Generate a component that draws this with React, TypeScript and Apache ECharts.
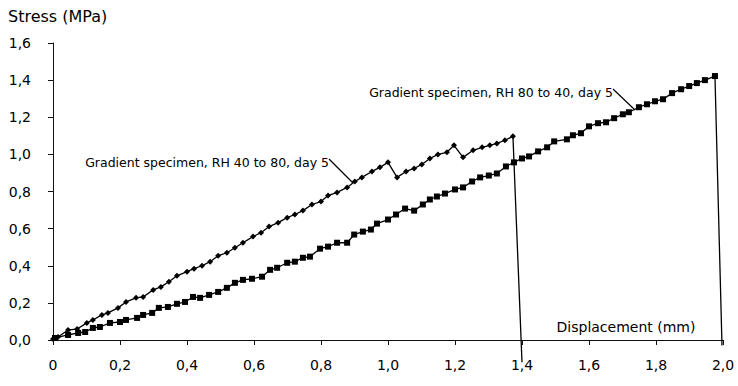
import React, { useEffect, useRef } from "react";
import * as echarts from "echarts";

// Gradient specimen, RH 40 to 80, day 5 (diamond markers)
const rh4080Disp = [
  0, 0.015, 0.045, 0.072, 0.101, 0.119, 0.146, 0.164, 0.194, 0.218,
  0.248, 0.269, 0.299, 0.322, 0.346, 0.37, 0.4, 0.421, 0.445, 0.469,
  0.493, 0.519, 0.543, 0.567, 0.597, 0.621, 0.645, 0.672, 0.699, 0.722,
  0.746, 0.773, 0.8, 0.821, 0.848, 0.878, 0.901, 0.922, 0.952, 0.976,
  1.0, 1.027, 1.054, 1.078, 1.101, 1.125, 1.149, 1.176, 1.197, 1.224,
  1.254, 1.281, 1.304, 1.325, 1.349, 1.373, 1.4,
];
const rh4080Stress = [
  0.005, 0.016, 0.054, 0.059, 0.092, 0.108, 0.135, 0.146, 0.173, 0.205,
  0.227, 0.232, 0.27, 0.286, 0.314, 0.346, 0.368, 0.384, 0.4, 0.422,
  0.454, 0.47, 0.497, 0.524, 0.557, 0.578, 0.611, 0.632, 0.659, 0.676,
  0.697, 0.73, 0.746, 0.778, 0.795, 0.822, 0.854, 0.876, 0.908, 0.93,
  0.957, 0.876, 0.908, 0.924, 0.946, 0.978, 1.0, 1.011, 1.049, 0.984,
  1.022, 1.038, 1.049, 1.059, 1.076, 1.097, -0.12,
];

// Gradient specimen, RH 80 to 40, day 5 (square markers)
const rh8040Disp = [
  0.006, 0.045, 0.075, 0.096, 0.119, 0.14, 0.17, 0.2, 0.218, 0.251,
  0.269, 0.296, 0.316, 0.343, 0.37, 0.394, 0.418, 0.439, 0.466, 0.493,
  0.519, 0.543, 0.567, 0.594, 0.624, 0.648, 0.669, 0.699, 0.722, 0.746,
  0.767, 0.797, 0.821, 0.848, 0.878, 0.899, 0.925, 0.949, 0.967, 1.0,
  1.024, 1.051, 1.078, 1.104, 1.125, 1.146, 1.17, 1.2, 1.224, 1.251,
  1.275, 1.301, 1.325, 1.352, 1.376, 1.4, 1.421, 1.448, 1.475, 1.496,
  1.534, 1.552, 1.576, 1.6, 1.627, 1.651, 1.675, 1.701, 1.719, 1.749,
  1.773, 1.797, 1.821, 1.848, 1.875, 1.899, 1.922, 1.946, 1.976, 1.997,
];
const rh8040Stress = [
  0.011, 0.027, 0.038, 0.043, 0.065, 0.07, 0.092, 0.097, 0.108, 0.119,
  0.135, 0.146, 0.173, 0.178, 0.195, 0.205, 0.232, 0.227, 0.243, 0.259,
  0.281, 0.308, 0.324, 0.33, 0.341, 0.378, 0.389, 0.416, 0.422, 0.443,
  0.449, 0.492, 0.503, 0.524, 0.524, 0.568, 0.584, 0.595, 0.627, 0.649,
  0.676, 0.708, 0.697, 0.73, 0.757, 0.773, 0.789, 0.811, 0.822, 0.854,
  0.876, 0.886, 0.897, 0.935, 0.957, 0.978, 0.989, 1.016, 1.038, 1.07,
  1.081, 1.103, 1.114, 1.151, 1.168, 1.173, 1.195, 1.216, 1.227, 1.254,
  1.27, 1.286, 1.297, 1.33, 1.351, 1.368, 1.384, 1.4, 1.422, -0.03,
];

const yAxisTitle = "Stress (MPa)";
const xAxisTitle = "Displacement (mm)";
const label4080 = "Gradient specimen, RH 40 to 80, day 5";
const label8040 = "Gradient specimen, RH 80 to 40, day 5";

const FONT = "DejaVu Sans";

function toData(xs: number[], ys: number[]) {
  return xs.map((x, i) => {
    const item: any = { value: [x, ys[i]] };
    if (i === xs.length - 1) item.symbol = "none";
    return item;
  });
}

const fmt = (v: number) => (v === 0 ? "0" : v.toFixed(1).replace(".", ","));
const fmtY = (v: number) => v.toFixed(1).replace(".", ",");

export default function App() {
  const ref = useRef<HTMLDivElement>(null);
  useEffect(() => {
    document.body.style.margin = "0";
    const chart = echarts.init(ref.current!, null, { renderer: "svg" });
    chart.setOption({
      animation: false,
      backgroundColor: "#ffffff",
      grid: { left: 53, right: 15, top: 43, bottom: 46 },
      xAxis: {
        type: "value",
        min: 0,
        max: 2,
        interval: 0.2,
        axisLine: { onZero: false, lineStyle: { color: "#111", width: 1 } },
        axisTick: { show: true, inside: false, length: 5, lineStyle: { color: "#111" } },
        axisLabel: { color: "#000", fontFamily: FONT, fontSize: 14, margin: 18, formatter: fmt },
        splitLine: { show: false },
      },
      yAxis: {
        type: "value",
        min: 0,
        max: 1.6,
        interval: 0.2,
        axisLine: { show: true, lineStyle: { color: "#111", width: 1 } },
        axisTick: { show: true, inside: false, length: 5, lineStyle: { color: "#111" } },
        axisLabel: { color: "#000", fontFamily: FONT, fontSize: 14, margin: 22, formatter: fmtY },
        splitLine: { show: false },
      },
      series: [
        {
          name: label4080,
          type: "line",
          data: toData(rh4080Disp, rh4080Stress),
          symbol: "diamond",
          symbolSize: 6,
          clip: false,
          lineStyle: { color: "#000", width: 1.3 },
          itemStyle: { color: "#000" },
        },
        {
          name: label8040,
          type: "line",
          data: toData(rh8040Disp, rh8040Stress),
          symbol: "rect",
          symbolSize: 6,
          clip: false,
          lineStyle: { color: "#000", width: 1.3 },
          itemStyle: { color: "#000" },
        },
      ],
      graphic: [
        {
          type: "text",
          left: 8,
          top: 8,
          style: { text: yAxisTitle, fill: "#000", font: `16px "${FONT}"` },
        },
        {
          type: "text",
          x: 626,
          y: 327,
          style: {
            text: xAxisTitle,
            fill: "#000",
            font: `14px "${FONT}"`,
            textAlign: "center",
            textVerticalAlign: "middle",
          },
        },
        {
          type: "text",
          x: 329,
          y: 162,
          style: {
            text: label4080,
            fill: "#000",
            font: `12.5px "${FONT}"`,
            textAlign: "right",
            textVerticalAlign: "middle",
          },
        },
        {
          type: "line",
          shape: { x1: 329, y1: 159, x2: 353, y2: 183 },
          style: { stroke: "#000", lineWidth: 1.2 },
        },
        {
          type: "text",
          x: 613,
          y: 92,
          style: {
            text: label8040,
            fill: "#000",
            font: `12.5px "${FONT}"`,
            textAlign: "right",
            textVerticalAlign: "middle",
          },
        },
        {
          type: "line",
          shape: { x1: 613, y1: 89, x2: 635, y2: 110 },
          style: { stroke: "#000", lineWidth: 1.2 },
        },
      ],
    });
    return () => chart.dispose();
  }, []);
  return <div ref={ref} style={{ width: 738, height: 386 }} />;
}
